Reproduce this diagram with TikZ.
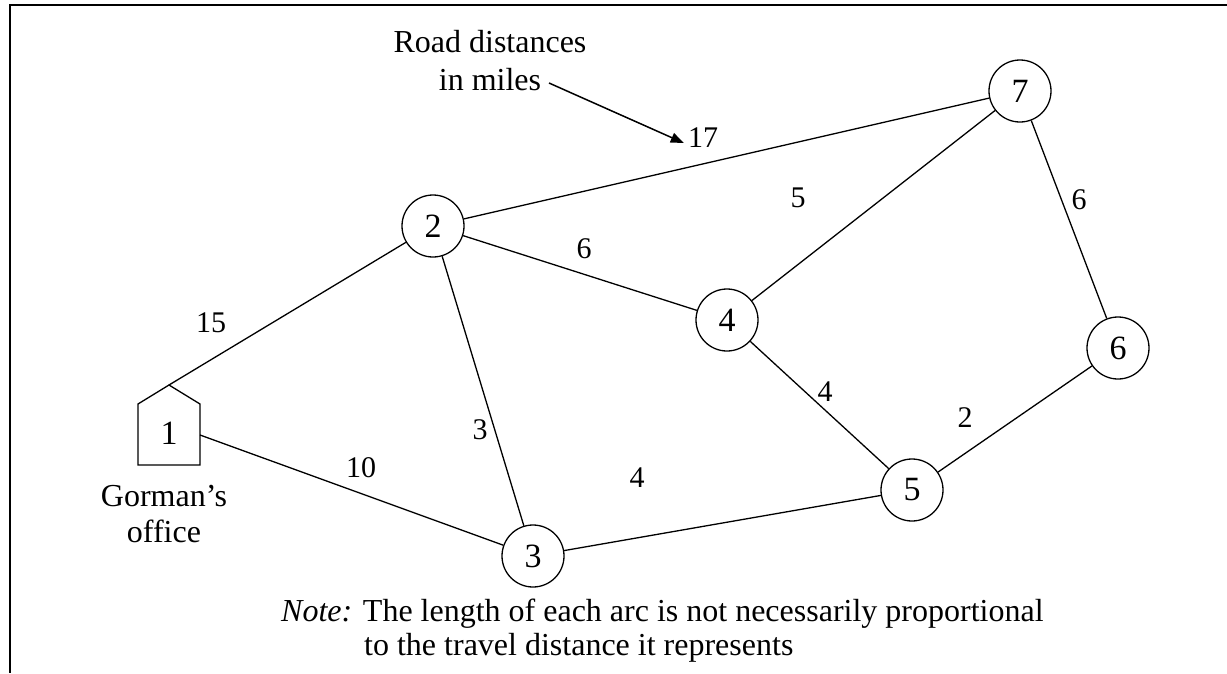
\documentclass[tikz,border=0pt]{standalone}
\usepackage{fontspec}
\setmainfont{Liberation Serif}
\usetikzlibrary{arrows.meta}
\begin{document}
\begin{tikzpicture}[x=1pt,y=-1pt,
  site/.style={circle,draw,line width=1.3pt,minimum size=62pt,inner sep=0pt,
    font=\fontsize{34}{40}\selectfont},
  road/.style={line width=1.3pt},
  dist/.style={inner sep=0pt,font=\fontsize{30}{36}\selectfont},
  caption/.style={inner sep=0pt,font=\fontsize{32}{37}\selectfont},
  pointer/.style={line width=1.5pt,-{Triangle[length=13pt,width=10pt]}},
]
\useasboundingbox (0,0) rectangle (1227,673);
% open frame: top and left edges only
\draw[line width=2pt] (1227,5) -- (10,5) -- (10,673);

% office (node 1) drawn as a house
\draw[road] (138,465) -- (138,404) -- (169,385) -- (200,404) -- (200,465) -- cycle;
\node[inner sep=0pt,font=\fontsize{34}{40}\selectfont] (n1) at (169,433) {1};
\coordinate (n1top) at (169,385);
\coordinate (n1side) at (200,435);

% intersections
\node[site] (n2) at (433,226) {2};
\node[site] (n3) at (533,556) {3};
\node[site] (n4) at (727,320) {4};
\node[site] (n5) at (912,490) {5};
\node[site] (n6) at (1118,348) {6};
\node[site] (n7) at (1020,91) {7};

% roads
\draw[road] (n1top) -- (n2);
\draw[road] (n1side) -- (n3);
\draw[road] (n2) -- (n7);
\draw[road] (n2) -- (n4);
\draw[road] (n2) -- (n3);
\draw[road] (n7) -- (n4);
\draw[road] (n7) -- (n6);
\draw[road] (n4) -- (n5);
\draw[road] (n3) -- (n5);
\draw[road] (n5) -- (n6);

% distances
\node[dist] (d12) at (211,323) {15};
\node[dist] (d13) at (361,468) {10};
\node[dist] (d23) at (480,430) {3};
\node[dist] (d35) at (637,478) {4};
\node[dist] (d24) at (584,249) {6};
\node[dist] (d27) at (703,138) {17};
\node[dist] (d47) at (798,198) {5};
\node[dist] (d67) at (1079,200) {6};
\node[dist] (d45) at (825,392) {4};
\node[dist] (d56) at (965,418) {2};

% captions
\node[caption,anchor=base] (road) at (490,52) {Road distances};
\node[caption,anchor=base] (miles) at (490,90) {in miles};
\coordinate (ptail) at (549,83);
\draw[pointer] (ptail) -- ([xshift=-4pt,yshift=-5pt]d27.west);

\node[caption,anchor=base] (gorman) at (164,506) {Gorman’s};
\node[caption,anchor=base] (office) at (164,542) {office};

\node[caption,anchor=base west] (note1) at (281,621) {\textit{Note:} The length of each arc is not necessarily proportional};
\node[caption,anchor=base west] (note2) at (364,655) {to the travel distance it represents};
\end{tikzpicture}
\end{document}
